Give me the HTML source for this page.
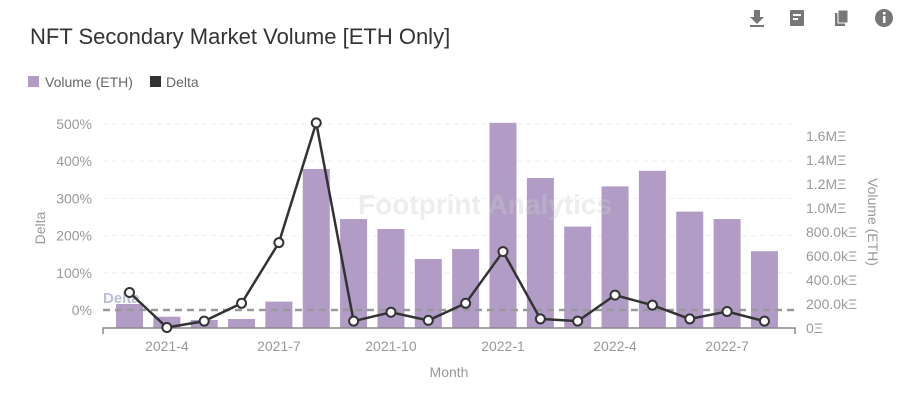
<!DOCTYPE html>
<html><head><meta charset="utf-8"><style>
body{margin:0;width:916px;height:407px;background:#fff;font-family:"Liberation Sans",sans-serif;overflow:hidden;position:relative}
</style></head><body>
<div style="position:absolute;left:30px;top:24px;font-size:22px;color:#333">NFT Secondary Market Volume [ETH Only]</div>
<svg width="916" height="407" style="position:absolute;left:0;top:0">
<g fill="#777">
<g><rect x="750" y="25" width="14" height="2"/><path d="M754 10h6v7h4l-7 7-7-7h4z"/></g>
<g><rect x="790" y="10" width="14" height="16" rx="1"/><rect x="793" y="14" width="8" height="2" fill="#fff"/><rect x="793" y="18" width="5" height="2" fill="#fff"/></g>
<g><rect x="835" y="13" width="10" height="13"/><rect x="838" y="10" width="10" height="13" fill="#777" stroke="#fff" stroke-width="1"/></g>
<g><circle cx="884" cy="18" r="9"/><rect x="883" y="16" width="2.5" height="7" fill="#fff"/><rect x="883" y="12" width="2.5" height="2.5" fill="#fff"/></g>
</g>
<g font-size="14" fill="#666">
<g><rect x="28" y="76" width="11" height="11" fill="#b19cc6"/><text x="45" y="87">Volume (ETH)</text></g>
<g><rect x="150" y="76" width="11" height="11" fill="#333"/><text x="166" y="87">Delta</text></g>
</g>
<g id="chart"></g>
<text x="358" y="214" font-size="28" font-weight="bold" fill="#ccc" opacity="0.35">Footprint Analytics</text>
</svg>
<script>
const months=["2021-3","2021-4","2021-5","2021-6","2021-7","2021-8","2021-9","2021-10","2021-11","2021-12","2022-1","2022-2","2022-3","2022-4","2022-5","2022-6","2022-7","2022-8"];
const volume=[0.2,0.094,0.067,0.075,0.22,1.325,0.908,0.825,0.575,0.658,1.71,1.25,0.845,1.18,1.31,0.97,0.908,0.64];
const delta=[47,-47,-30,18,181,503,-30,-6,-28,18,157,-24,-30,40,13,-24,-4,-30];
const leftTicks=[0,100,200,300,400,500];
const rightTicks=[0,0.2,0.4,0.6,0.8,1.0,1.2,1.4,1.6];
const rightLabels=["0Ξ","200.0kΞ","400.0kΞ","600.0kΞ","800.0kΞ","1.0MΞ","1.2MΞ","1.4MΞ","1.6MΞ"];
const ns="http://www.w3.org/2000/svg";
const g=document.getElementById('chart');
const xC=i=>129.5+i*37.35;
const yL=v=>310-v*0.372;
const yR=v=>328-v*120;
function mk(t,a,txt){const e=document.createElementNS(ns,t);for(const k in a)e.setAttribute(k,a[k]);if(txt!=null)e.textContent=txt;g.appendChild(e);return e;}
leftTicks.forEach(t=>{
 if(t>0){const l=mk('line',{x1:103,x2:795,y1:yL(t),y2:yL(t),stroke:'#eee','stroke-dasharray':'5,4'});
 
 }
 const tx=mk('text',{x:92,y:yL(t)+5,'text-anchor':'end','font-size':14,fill:'#999'},t+'%');
 
 
});
rightTicks.forEach((t,i)=>{
 const tx=mk('text',{x:806,y:yR(t)+5,'font-size':14,fill:'#999'},rightLabels[i]);
 
 
});
volume.forEach((v,i)=>{
 const r=mk('rect',{x:xC(i)-13.5,y:yR(v),width:27,height:328-yR(v),fill:'#b19cc6'});
 
 
});
const zl=mk('line',{x1:103,x2:795,y1:yL(0),y2:yL(0),stroke:'#999','stroke-width':2.5,'stroke-dasharray':'7,5'});


const zt=mk('text',{x:103,y:303,'font-size':15,'font-weight':'bold',fill:'#b8bdd8'},'Delta');


const ax=mk('path',{d:'M103 334V328H795V334',stroke:'#888',fill:'none','stroke-width':1.5});


months.forEach((m,i)=>{ if(i%3===1){
 const tx=mk('text',{x:xC(i),y:351,'text-anchor':'middle','font-size':14,fill:'#999'},m);
 
 }});
const ln=mk('polyline',{points:delta.map((d,i)=>xC(i)+','+yL(d)).join(' '),fill:'none',stroke:'#333','stroke-width':2.5});


delta.forEach((d,i)=>{
 const c=mk('circle',{cx:xC(i),cy:yL(d),r:4.5,fill:'#fff',stroke:'#333','stroke-width':2});
 
 
});
const xt=mk('text',{x:449,y:377,'text-anchor':'middle','font-size':14,fill:'#999'},'Month');


const lt=mk('text',{x:0,y:0,'text-anchor':'middle','font-size':14,fill:'#999',transform:'translate(45,228) rotate(-90)'},'Delta');


const rt=mk('text',{x:0,y:0,'text-anchor':'middle','font-size':14,fill:'#999',transform:'translate(868,222) rotate(90)'},'Volume (ETH)');


</script>
</body></html>
